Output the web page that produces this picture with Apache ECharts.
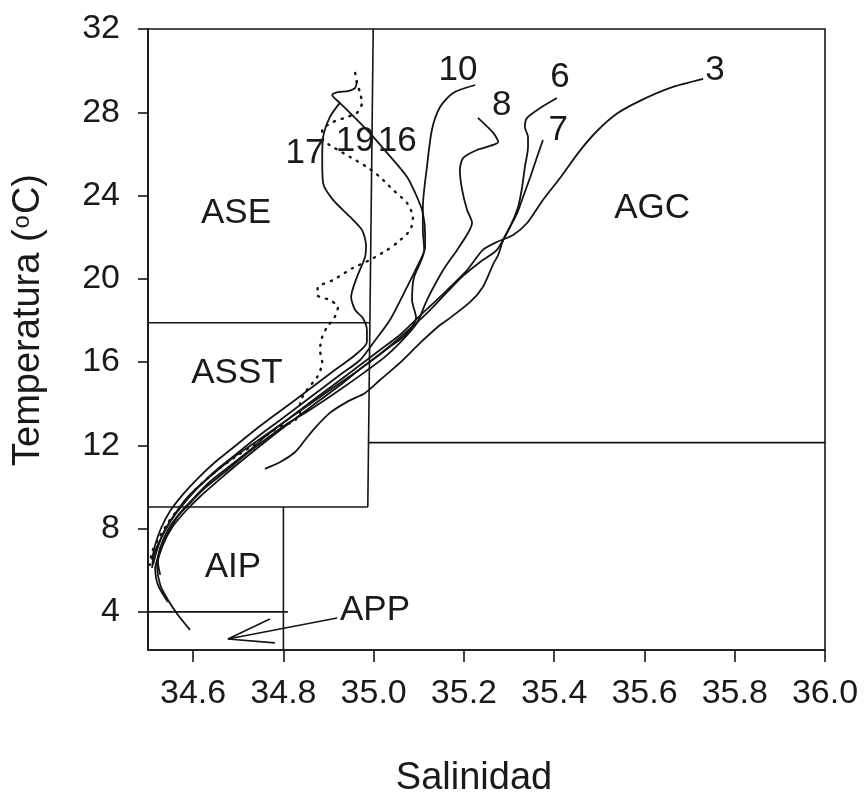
<!DOCTYPE html>
<html>
<head>
<meta charset="utf-8">
<script src="https://cdn.jsdelivr.net/npm/echarts@6/dist/echarts.min.js"></script>
<style>html,body{margin:0;padding:0;background:#fff}#c{width:864px;height:800px}</style>
</head>
<body>
<div id="c"></div>
<script>
// ---- axis ticks ----
const xTicks = [34.6, 34.8, 35.0, 35.2, 35.4, 35.6, 35.8, 36.0];
const yTicks = [4, 8, 12, 16, 20, 24, 28, 32];

// ---- station T-S profiles [salinity, temperature] ----
const st3 = [[35.730,29.60],[35.657,29.17],[35.590,28.55],[35.540,27.95],[35.495,27.10],[35.455,26.10],[35.413,24.84],[35.375,23.79],[35.340,22.68],[35.309,22.11],[35.273,21.77],[35.242,21.39],[35.207,20.42],[35.147,19.13],[35.109,18.36],[35.058,17.30],[35.014,16.58],[34.970,15.86],[34.926,15.14],[34.881,14.42],[34.837,13.70],[34.793,12.98],[34.759,12.41],[34.726,11.78],[34.682,11.02],[34.637,10.25],[34.604,9.53],[34.571,8.76],[34.544,7.94],[34.527,7.08],[34.520,6.26],[34.527,5.30],[34.544,4.58],[34.566,3.86],[34.593,3.14]];
const st6 = [[35.406,28.69],[35.369,28.21],[35.340,27.73],[35.335,27.29],[35.342,26.81],[35.342,26.33],[35.335,25.37],[35.329,24.41],[35.320,23.45],[35.302,22.49],[35.273,21.39],[35.236,20.81],[35.198,20.14],[35.163,19.37],[35.125,18.50],[35.092,17.83],[35.052,17.06],[35.014,16.39],[34.970,15.67],[34.926,14.90],[34.881,14.18],[34.837,13.46],[34.793,12.74],[34.748,11.97],[34.704,11.20],[34.660,10.39],[34.615,9.53],[34.582,8.81],[34.553,8.04],[34.533,7.22],[34.522,6.40],[34.527,5.78]];
const st7 = [[35.375,26.67],[35.362,25.85],[35.347,24.89],[35.331,23.93],[35.318,23.16],[35.302,22.49],[35.287,21.87],[35.276,21.15],[35.265,20.71],[35.242,19.61],[35.214,18.89],[35.163,18.02],[35.147,17.78],[35.103,16.92],[35.058,15.96],[35.014,15.14],[34.981,14.52],[34.941,14.09],[34.903,13.56],[34.870,12.84],[34.848,12.26],[34.826,11.68],[34.793,11.20],[34.759,10.87]];
const st8 = [[35.231,27.73],[35.265,27.01],[35.276,26.57],[35.265,26.43],[35.229,26.19],[35.198,25.80],[35.191,25.23],[35.196,24.27],[35.207,23.31],[35.218,22.68],[35.209,22.20],[35.185,21.39],[35.154,20.42],[35.118,18.98],[35.096,17.88],[35.058,16.92],[35.025,16.25],[34.981,15.53],[34.937,14.85],[34.892,14.18],[34.848,13.56],[34.804,12.98],[34.759,12.26],[34.715,11.54],[34.671,10.73],[34.626,9.95],[34.593,9.23],[34.564,8.52],[34.542,7.70],[34.527,6.88],[34.516,6.11],[34.522,5.30],[34.544,4.48]];
const st10 = [[35.225,29.31],[35.176,28.93],[35.147,28.25],[35.129,27.15],[35.118,25.37],[35.109,23.45],[35.109,22.35],[35.112,21.39],[35.089,20.04],[35.085,18.98],[35.094,18.12],[35.070,17.30],[35.036,16.73],[34.992,16.01],[34.948,15.33],[34.903,14.66],[34.859,13.99],[34.815,13.32],[34.770,12.64],[34.726,11.97],[34.682,11.30],[34.642,10.58],[34.606,9.86],[34.575,9.09],[34.549,8.32],[34.527,7.46],[34.513,6.74],[34.509,6.11]];
const st16 = [[34.963,29.55],[34.959,29.17],[34.943,29.02],[34.921,28.97],[34.908,28.83],[34.925,28.45],[34.941,28.11],[34.985,27.15],[35.030,26.04],[35.074,24.89],[35.096,23.93],[35.109,23.16],[35.114,22.11],[35.114,21.53],[35.096,20.57],[35.074,19.61],[35.036,18.02],[34.999,16.92],[34.970,16.10],[34.925,15.38],[34.881,14.66],[34.837,13.94],[34.793,13.22],[34.748,12.50],[34.704,11.73],[34.660,10.97],[34.620,10.19],[34.586,9.47],[34.558,8.66],[34.535,7.84],[34.520,6.98],[34.511,6.26]];
const st17 = [[34.925,28.45],[34.903,27.77],[34.888,26.81],[34.886,25.71],[34.888,24.60],[34.910,23.79],[34.948,22.97],[34.974,22.35],[34.983,21.63],[34.981,21.05],[34.963,20.09],[34.950,19.13],[34.959,18.50],[34.976,18.12],[34.985,17.54],[34.985,16.97],[34.959,16.34],[34.914,15.62],[34.870,14.90],[34.826,14.18],[34.781,13.46],[34.737,12.74],[34.693,11.97],[34.649,11.20],[34.611,10.43],[34.578,9.66],[34.549,8.85],[34.529,8.03],[34.516,7.22],[34.509,6.50]];
const st19 = [[34.959,29.89],[34.963,29.41],[34.970,28.93],[34.974,28.45],[34.965,28.01],[34.941,27.77],[34.910,27.53],[34.886,27.15],[34.888,26.67],[34.910,26.33],[34.948,25.85],[34.985,25.37],[35.014,24.89],[35.043,24.27],[35.074,23.64],[35.087,22.97],[35.081,22.35],[35.052,21.73],[35.030,21.39],[34.992,20.91],[34.954,20.52],[34.910,19.94],[34.877,19.61],[34.875,19.22],[34.903,18.98],[34.921,18.65],[34.914,18.17],[34.897,17.69],[34.886,17.21],[34.881,16.58],[34.886,15.96],[34.875,15.29],[34.852,14.66],[34.837,14.04],[34.837,13.56],[34.821,13.12],[34.799,12.98],[34.764,12.50],[34.733,12.02],[34.693,11.44],[34.649,10.73],[34.604,9.86],[34.571,9.05],[34.544,8.27],[34.522,7.46],[34.509,6.88],[34.504,6.26]];

// ---- water-mass boundaries ----
const boxLines = [
  [[34.482,17.89],[34.992,17.89]],
  [[34.482,9.04],[34.987,9.04]],
  [[34.987,9.04],[34.999,32.0]],
  [[34.987,12.13],[36.0,12.13]],
  [[34.80,9.04],[34.80,2.17]],
  [[34.50,4.0],[34.81,4.0]]
];
const appArrow = [
  [[34.919,3.71],[34.677,2.70],[34.770,3.66]],
  [[34.677,2.70],[34.781,2.51]]
];

// ---- text labels ----
const regionNames = ['ASE','ASST','AIP','APP','AGC'];
const regionAnchors = [[34.695,23.16],[34.697,15.48],[34.688,6.16],[35.003,4.09],[35.617,23.40]];
const stationNames = ['3','6','7','8','10','16','17','19'];
const stationAnchors = [[35.756,30.03],[35.413,29.69],[35.409,27.15],[35.284,28.35],[35.187,30.03],[35.052,26.62],[34.848,26.04],[34.959,26.62]];

const FONT = '"Liberation Sans", Arial, sans-serif';
const INK = '#141414';
const TXT = '#1a1a1a';
const profiles = [st3, st6, st7, st8, st10, st16, st17];

const series = [];
profiles.forEach(p => series.push({
  type:'line', data:p, showSymbol:false, smooth:0.25, silent:true, z:3,
  lineStyle:{color:INK, width:1.8}
}));
series.push({
  type:'line', data:st19, showSymbol:false, smooth:0.25, silent:true, z:3,
  lineStyle:{color:INK, width:2.4, type:[1.2,7], cap:'round'}
});
boxLines.concat(appArrow).forEach(seg => series.push({
  type:'line', data:seg, showSymbol:false, silent:true, clip:false, z:2,
  lineStyle:{color:INK, width:1.6}
}));
const textStyle = {show:true, position:'inside', formatter:'{b}', fontSize:35, color:TXT,
  textBorderWidth:0, textShadowBlur:0, opacity:1, fontFamily:FONT};
series.push({
  type:'scatter', symbolSize:1, silent:true, z:5, itemStyle:{color:'#fff', opacity:0},
  data: regionAnchors.map((p,i)=>({value:p, name:regionNames[i]})), label:textStyle
});
series.push({
  type:'scatter', symbolSize:1, silent:true, z:5, itemStyle:{color:'#fff', opacity:0},
  data: stationAnchors.map((p,i)=>({value:p, name:stationNames[i]})), label:textStyle
});

const chart = echarts.init(document.getElementById('c'), null, {renderer:'canvas'});
chart.setOption({
  animation:false,
  backgroundColor:'#fff',
  grid:{left:148, right:39, top:29, bottom:150, show:true, borderColor:INK, borderWidth:1.6, backgroundColor:'transparent'},
  xAxis:{
    type:'value', min:34.5, max:36.0,
    axisLine:{show:true, lineStyle:{color:INK, width:1.6}},
    axisTick:{show:true, length:12, customValues:xTicks, lineStyle:{color:INK, width:1.6}},
    axisLabel:{customValues:xTicks, formatter:v=>v.toFixed(1), fontSize:34, color:TXT, margin:27, fontFamily:FONT},
    splitLine:{show:false}
  },
  yAxis:{
    type:'value', min:2.17, max:32,
    axisLine:{show:true, lineStyle:{color:INK, width:1.6}},
    axisTick:{show:true, length:10, customValues:yTicks, lineStyle:{color:INK, width:1.6}},
    axisLabel:{customValues:yTicks, fontSize:34, color:TXT, margin:28, fontFamily:FONT},
    splitLine:{show:false}
  },
  graphic:[
    {type:'text', x:474, y:779, style:{text:'Salinidad', fill:TXT, font:'38px '+FONT, textAlign:'center', textVerticalAlign:'middle'}},
    {type:'text', x:29, y:320, rotation:Math.PI/2, style:{
      text:'Temperatura ({s|o}C)', fill:TXT, font:'38px '+FONT, textAlign:'center', textVerticalAlign:'middle',
      rich:{s:{fontSize:24, fontFamily:FONT, fill:TXT, verticalAlign:'top', padding:[0,1,0,1]}}
    }}
  ],
  series: series
});
</script>
</body>
</html>
